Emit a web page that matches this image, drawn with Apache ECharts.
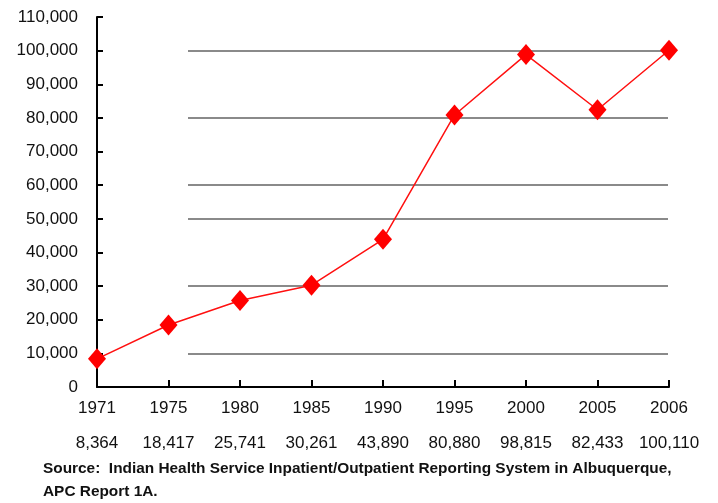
<!DOCTYPE html>
<html>
<head>
<meta charset="utf-8">
<script src="https://cdn.jsdelivr.net/npm/echarts@6/dist/echarts.min.js"></script>
<style>
  html, body { margin: 0; padding: 0; background: #fff; }
  #chart { width: 718px; height: 503px; }
</style>
</head>
<body>
<div id="chart"></div>
<script>
// years on the x axis and the patient counts under them
var years = ['1971', '1975', '1980', '1985', '1990', '1995', '2000', '2005', '2006'];
var visits = [8364, 18417, 25741, 30261, 43890, 80880, 98815, 82433, 100110];
// horizontal rules that are drawn in the original (not every tick has one)
var ruleValues = [0, 10000, 30000, 50000, 60000, 80000, 100000];
var yMax = 110000, yStep = 10000;

var font = '"Liberation Sans", Arial, sans-serif';

function fmt(n) {
    return n.toString().replace(/\B(?=(\d{3})+(?!\d))/g, ',');
}

// one colour per tick, transparent where the original has no rule
var ruleColors = [];
for (var v = 0; v <= yMax; v += yStep) {
    ruleColors.push(ruleValues.indexOf(v) >= 0 ? '#8a8a8a' : 'rgba(0,0,0,0)');
}

var myChart = echarts.init(document.getElementById('chart'));

var option = {
    backgroundColor: '#ffffff',
    animation: false,
    grid: [
        { left: 97, right: 49, top: 17, bottom: 116 },
        { left: 188, right: 50, top: 17, bottom: 116 }
    ],
    xAxis: [{
        type: 'category',
        gridIndex: 0,
        data: years,
        boundaryGap: false,
        axisLine: { lineStyle: { color: '#000', width: 2 } },
        axisTick: { inside: true, length: 7, interval: 0, lineStyle: { color: '#000', width: 2 } },
        axisLabel: {
            interval: 0,
            hideOverlap: false,
            margin: 10,
            color: '#111',
            fontFamily: font,
            fontSize: 17,
            formatter: function (val, i) {
                return '{y|' + val + '}\n{v|' + fmt(visits[i]) + '}';
            },
            rich: {
                y: { fontFamily: font, fontSize: 17, color: '#111', lineHeight: 22 },
                v: { fontFamily: font, fontSize: 17, color: '#111', lineHeight: 48 }
            }
        },
        splitLine: { show: false },
        z: 3
    }, {
        type: 'value',
        gridIndex: 1,
        show: false
    }],
    yAxis: [{
        type: 'value',
        gridIndex: 0,
        min: 0,
        max: yMax,
        interval: yStep,
        axisLine: { show: true, lineStyle: { color: '#000', width: 2 } },
        axisTick: { show: true, inside: true, length: 6, lineStyle: { color: '#000', width: 2 } },
        axisLabel: {
            margin: 19,
            color: '#111',
            fontFamily: font,
            fontSize: 17,
            formatter: function (val) { return fmt(val); }
        },
        splitLine: { show: false },
        z: 3
    }, {
        type: 'value',
        gridIndex: 1,
        min: 0,
        max: yMax,
        interval: yStep,
        axisLine: { show: false },
        axisTick: { show: false },
        axisLabel: { show: false },
        splitLine: { show: true, lineStyle: { color: ruleColors, width: 2 } }
    }],
    series: [{
        name: 'Visits',
        type: 'line',
        xAxisIndex: 0,
        yAxisIndex: 0,
        data: visits,
        symbol: 'diamond',
        symbolSize: [18, 21],
        lineStyle: { color: '#ff1010', width: 1.5 },
        itemStyle: { color: '#ff0000' },
        z: 5
    }],
    graphic: [{
        type: 'text',
        left: 43,
        top: 457,
        style: {
            text: 'Source:  Indian Health Service Inpatient/Outpatient Reporting System in Albuquerque,\nAPC Report 1A.',
            font: 'bold 15.4px ' + font,
            fill: '#111',
            lineHeight: 23
        }
    }]
};

myChart.setOption(option);
</script>
</body>
</html>
